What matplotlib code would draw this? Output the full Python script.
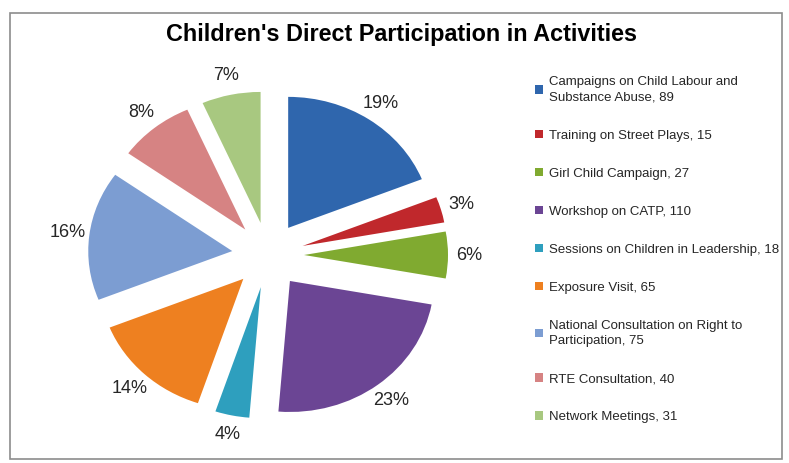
import matplotlib.pyplot as plt
from matplotlib.patches import Patch, Rectangle

plt.rcParams['font.family'] = ['Liberation Sans', 'DejaVu Sans']

#%% Data

activities = ['Campaigns on Child Labour and\nSubstance Abuse',
              'Training on Street Plays',
              'Girl Child Campaign',
              'Workshop on CATP',
              'Sessions on Children in Leadership',
              'Exposure Visit',
              'National Consultation on Right to\nParticipation',
              'RTE Consultation',
              'Network Meetings']
counts = [89, 15, 27, 110, 18, 65, 75, 40, 31]
pct_labels = ['19%', '3%', '6%', '23%', '4%', '14%', '16%', '8%', '7%']
colors = ['#2f66ad', '#c0282c', '#80aa30', '#6b4594', '#2e9fbe',
          '#ee8020', '#7c9dd2', '#d68383', '#a8c880']

#%% Figure

W, H = 789, 463
fig = plt.figure(figsize=(W / 100, H / 100), dpi=100)

# chart frame
fig.add_artist(Rectangle((10 / W, 1 - 459 / H), 772 / W, 446 / H,
                         transform=fig.transFigure, fill=False,
                         ec='#8c8c8c', lw=1.2))

fig.text(401 / W, 1 - 41 / H, "Children's Direct Participation in Activities",
         ha='center', va='baseline', fontsize=16.8, weight='bold', color='black')

# pie (screenshot is a bit stretched, so the pie is an ellipse)
ax = fig.add_axes([52 / W, (H - 451.5) / H, 432 / W, 393 / H])
wedges, texts = ax.pie(counts, colors=colors, startangle=90, counterclock=False,
                       explode=[0.25] * len(counts), labels=pct_labels,
                       labeldistance=1.15,
                       textprops=dict(fontsize=13, color='#262626'))
for t in texts:
    t.set_ha('center')
    t.set_va('center')
ax.set_aspect('auto')
ax.set_xlim(-1.5, 1.5)
ax.set_ylim(-1.5, 1.5)

# legend
handles = [Patch(facecolor=c, edgecolor='none') for c in colors]
leg_labels = ['{}, {}'.format(a, n) for a, n in zip(activities, counts)]
leg = fig.legend(handles, leg_labels, loc='upper left',
                 bbox_to_anchor=(535 / W, 1 - 76 / H), frameon=False,
                 fontsize=9.5, borderpad=0, handlelength=0.6, handleheight=0.6,
                 handletextpad=0.45, labelspacing=1.97, borderaxespad=0)
for t in leg.get_texts():
    t.set_linespacing(1.4)
    t.set_color('#262626')

plt.savefig('out.png', dpi=100)
